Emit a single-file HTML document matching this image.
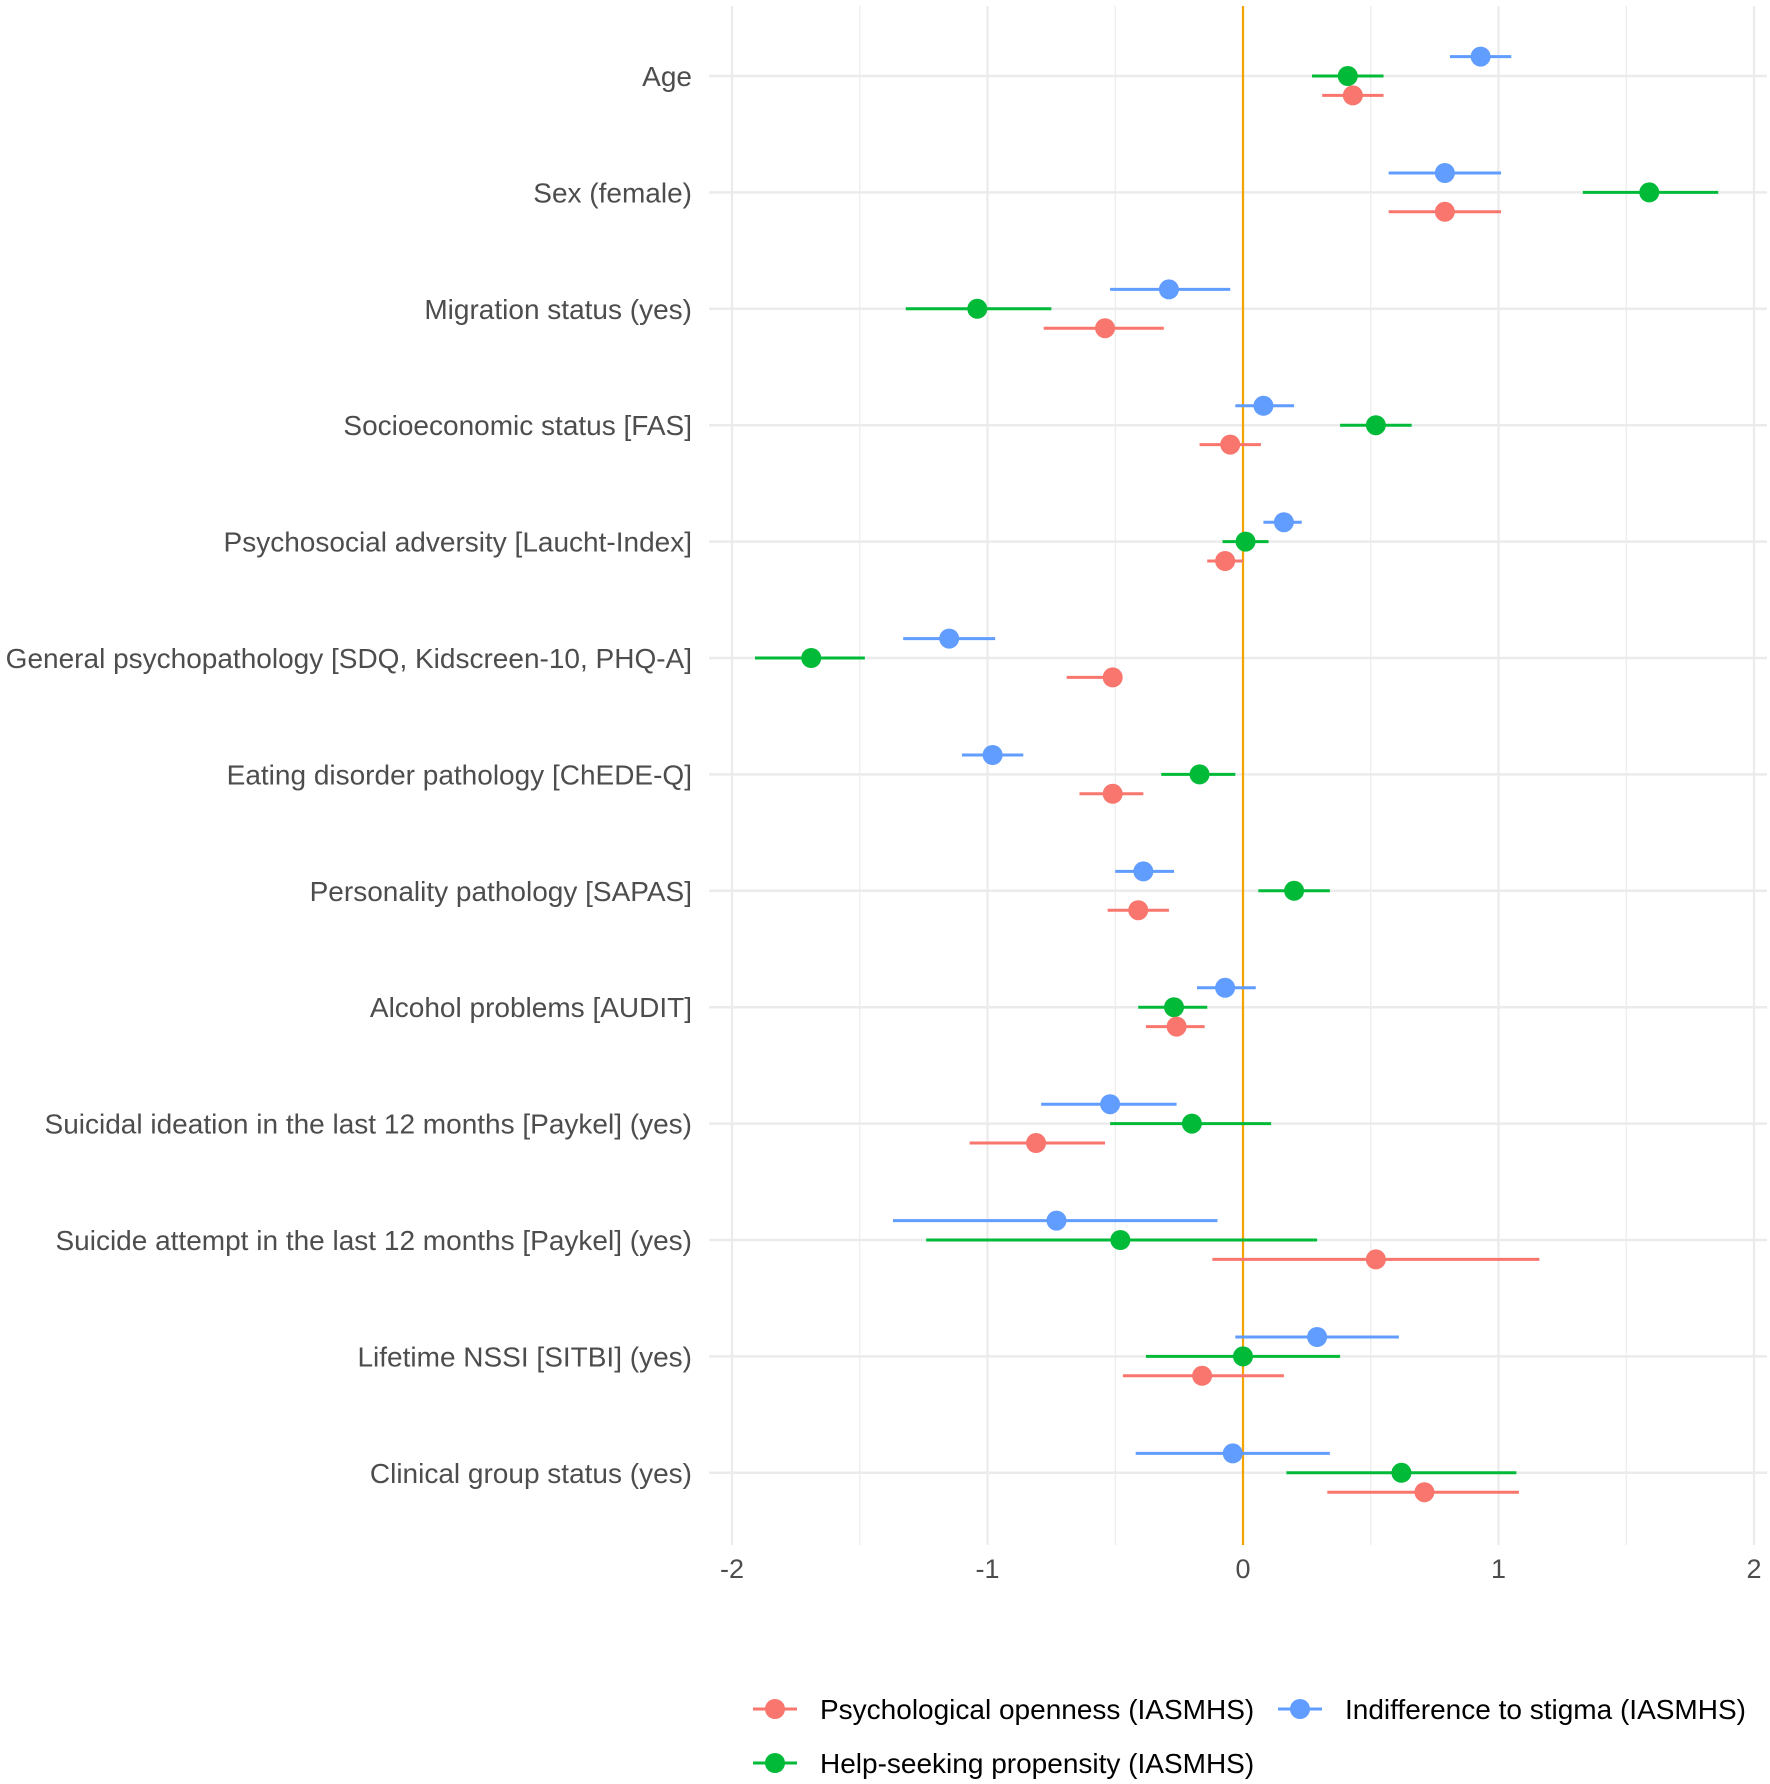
<!DOCTYPE html>
<html><head><meta charset="utf-8"><style>
html,body{margin:0;padding:0;background:#fff}
svg{display:block;font-family:"Liberation Sans",Arial,sans-serif}
</style></head><body>
<svg id="chart" width="1770" height="1784" viewBox="0 0 1770 1784">
<g id="grid"></g><g id="marks"></g><g id="labels"></g><g id="legend"></g>
</svg>
<script>
const categories=["Age","Sex (female)","Migration status (yes)","Socioeconomic status [FAS]","Psychosocial adversity [Laucht-Index]","General psychopathology [SDQ, Kidscreen-10, PHQ-A]","Eating disorder pathology [ChEDE-Q]","Personality pathology [SAPAS]","Alcohol problems [AUDIT]","Suicidal ideation in the last 12 months [Paykel] (yes)","Suicide attempt in the last 12 months [Paykel] (yes)","Lifetime NSSI [SITBI] (yes)","Clinical group status (yes)"];
const blueEst=[0.93,0.79,-0.29,0.08,0.16,-1.15,-0.98,-0.39,-0.07,-0.52,-0.73,0.29,-0.04];
const blueLo=[0.81,0.57,-0.52,-0.03,0.08,-1.33,-1.10,-0.50,-0.18,-0.79,-1.37,-0.03,-0.42];
const blueHi=[1.05,1.01,-0.05,0.20,0.23,-0.97,-0.86,-0.27,0.05,-0.26,-0.10,0.61,0.34];
const greenEst=[0.41,1.59,-1.04,0.52,0.01,-1.69,-0.17,0.20,-0.27,-0.20,-0.48,0.0,0.62];
const greenLo=[0.27,1.33,-1.32,0.38,-0.08,-1.91,-0.32,0.06,-0.41,-0.52,-1.24,-0.38,0.17];
const greenHi=[0.55,1.86,-0.75,0.66,0.10,-1.48,-0.03,0.34,-0.14,0.11,0.29,0.38,1.07];
const redEst=[0.43,0.79,-0.54,-0.05,-0.07,-0.51,-0.51,-0.41,-0.26,-0.81,0.52,-0.16,0.71];
const redLo=[0.31,0.57,-0.78,-0.17,-0.14,-0.69,-0.64,-0.53,-0.38,-1.07,-0.12,-0.47,0.33];
const redHi=[0.55,1.01,-0.31,0.07,0.00,-0.54,-0.39,-0.29,-0.15,-0.54,1.16,0.16,1.08];
const xTicks=[-2,-1,0,1,2];
const xTickLabels=["-2","-1","0","1","2"];
const legendLabels=["Psychological openness (IASMHS)","Indifference to stigma (IASMHS)","Help-seeking propensity (IASMHS)"];

const NS="http://www.w3.org/2000/svg";
const x=v=>1243+v*255.5;
const y=i=>76+i*116.4;
const panelL=709,panelR=1767,panelT=6,panelB=1545;
function mk(t,a,p){const e=document.createElementNS(NS,t);for(const k in a)e.setAttribute(k,a[k]);p.appendChild(e);return e;}
const grid=document.getElementById('grid'),marks=document.getElementById('marks'),labels=document.getElementById('labels'),legend=document.getElementById('legend');
for(let v=-2;v<=2;v+=0.5){
  const l=mk('line',{x1:x(v),x2:x(v),y1:panelT,y2:panelB,stroke:'#ebebeb','stroke-width':Number.isInteger(v)?2.2:1.2},grid);
  
  
}
categories.forEach((c,i)=>{
  const l=mk('line',{x1:panelL,x2:panelR,y1:y(i),y2:y(i),stroke:'#ebebeb','stroke-width':2.5},grid);
  
  
  const t=mk('text',{x:692,y:y(i)+10,'text-anchor':'end','font-size':28,fill:'#4d4d4d'},labels);
  t.textContent=c;
  
  
});
const zl=mk('line',{x1:x(0),x2:x(0),y1:panelT,y2:panelB,stroke:'#f5a300','stroke-width':2.2},grid);


xTicks.forEach((v,j)=>{
  const t=mk('text',{x:x(v),y:1578,'text-anchor':'middle','font-size':27,fill:'#4d4d4d'},labels);
  t.textContent=xTickLabels[j];
  
  
});
const series=[
  {name:'blue',col:'#619cff',est:blueEst,lo:blueLo,hi:blueHi,off:-19.4},
  {name:'green',col:'#00ba38',est:greenEst,lo:greenLo,hi:greenHi,off:0},
  {name:'red',col:'#f8766d',est:redEst,lo:redLo,hi:redHi,off:19.4}];
series.forEach(s=>{
  s.est.forEach((v,i)=>{
    const yy=y(i)+s.off;
    const l=mk('line',{x1:x(s.lo[i]),x2:x(s.hi[i]),y1:yy,y2:yy,stroke:s.col,'stroke-width':3},marks);
    
    
    const p=mk('circle',{cx:x(v),cy:yy,r:10,fill:s.col},marks);
    
    
  });
});
const leg=[[775,1709,'#f8766d',0],[1300,1709,'#619cff',1],[775,1763,'#00ba38',2]];
leg.forEach(([lx,ly,col,k])=>{
  const g=mk('g',{},legend);
  
  
  mk('line',{x1:lx-22,x2:lx+22,y1:ly,y2:ly,stroke:col,'stroke-width':3},g);
  mk('circle',{cx:lx,cy:ly,r:10,fill:col},g);
  const t=mk('text',{x:lx+45,y:ly+10,'font-size':28,fill:'#000'},g);
  t.textContent=legendLabels[k];
});
</script>
</body></html>
